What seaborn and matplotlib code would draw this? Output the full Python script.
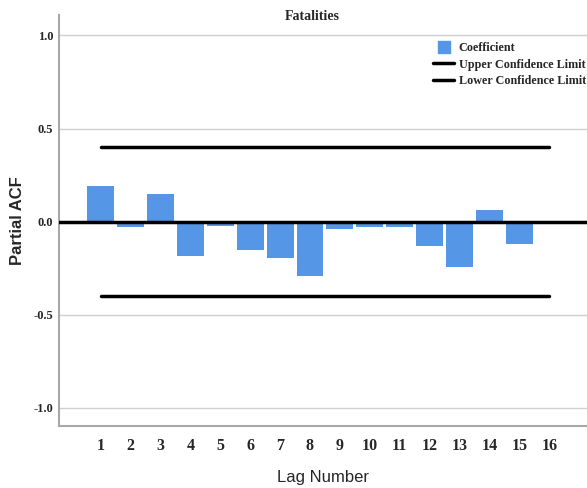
import matplotlib
matplotlib.use("Agg")
import matplotlib.pyplot as plt
import numpy as np
import pandas as pd
import seaborn as sns
from matplotlib.lines import Line2D

#
# Data
#
lags = list(range(1, 17))
coefficient = [0.194, -0.030, 0.150, -0.184, -0.023, -0.152, -0.195, -0.290,
               -0.039, -0.030, -0.030, -0.129, -0.244, 0.065, -0.122, -0.004]
upper_limit = [0.40] * 16
lower_limit = [-0.40] * 16
y_ticks = [-1.0, -0.5, 0.0, 0.5, 1.0]

df = pd.DataFrame({"lag": lags, "coef": coefficient,
                   "upper": upper_limit, "lower": lower_limit})

#
# Plot
#
sns.set_style("white")
serif = ["Liberation Serif", "DejaVu Serif"]
sans = ["Liberation Sans", "DejaVu Sans"]
bar_color = "#5596E6"

fig = plt.figure(figsize=(5.87, 4.88), dpi=100)
ax = fig.add_axes([59 / 587, 62 / 488, 528 / 587, 411 / 488])

ax.grid(axis="y", color="#d0d0d0", linewidth=1.0)
ax.set_axisbelow(True)

sns.barplot(data=df, x="lag", y="coef", native_scale=True, width=0.9,
            color=bar_color, saturation=1, linewidth=0, ax=ax)
ax.axhline(0, color="black", linewidth=2.5, zorder=3)
sns.lineplot(data=df, x="lag", y="upper", color="black", linewidth=2.5, ax=ax)
sns.lineplot(data=df, x="lag", y="lower", color="black", linewidth=2.5, ax=ax)

ax.set_xlim(-0.39, 17.26)
ax.set_ylim(-1.097, 1.11)
ax.set_xticks(lags)
ax.set_xticklabels([str(v) for v in lags], family=serif, fontweight="bold", fontsize=11.5)
ax.set_yticks(y_ticks)
ax.set_yticklabels([f"{v:.1f}" for v in y_ticks], family=serif, fontweight="bold", fontsize=9)
ax.tick_params(axis="both", length=0)
ax.tick_params(axis="x", pad=9)
ax.tick_params(axis="y", pad=4)

for side in ["top", "right"]:
    ax.spines[side].set_visible(False)
for side in ["left", "bottom"]:
    ax.spines[side].set_color("#a8a8a8")
    ax.spines[side].set_linewidth(1.5)

ax.set_xlabel("Lag Number", family=sans, fontsize=12, labelpad=11)
ax.set_ylabel("Partial ACF", family=sans, fontsize=12, fontweight="bold", labelpad=6)
fig.text(312 / 587, 1 - 16 / 488, "Fatalities", family=serif, fontweight="bold",
         fontsize=10, ha="center", va="center")

handles = [Line2D([], [], marker="s", markersize=9, linestyle="none",
                  color=bar_color),
           Line2D([], [], color="black", linewidth=2.5),
           Line2D([], [], color="black", linewidth=2.5)]
labels = ["Coefficient", "Upper Confidence Limit", "Lower Confidence Limit"]
ax.legend(handles, labels, loc="upper right", bbox_to_anchor=(1.007, 0.945),
          frameon=False, handlelength=1.7, handletextpad=0.4, labelspacing=0.35,
          borderaxespad=0.0,
          prop={"family": serif, "weight": "bold", "size": 8.7})

fig.savefig("out.png", dpi=100)
